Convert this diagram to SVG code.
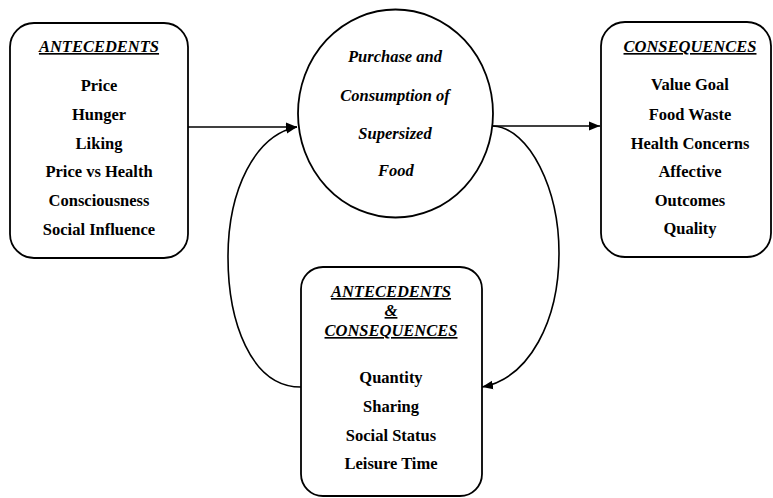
<svg xmlns="http://www.w3.org/2000/svg" width="773" height="498" viewBox="0 0 773 498">
<style>
.box{fill:#fff;stroke:#000;stroke-width:1.8}
.t{font-family:"Liberation Serif","Times New Roman",serif;font-size:16.5px;font-weight:bold;fill:#000;text-anchor:middle}
.h{font-style:italic;text-decoration:underline}
.i{font-style:italic}
.c{fill:none;stroke:#000;stroke-width:1.6}
</style>
<defs>
<marker id="ah" viewBox="0 0 10 10" refX="10" refY="5" markerWidth="11" markerHeight="11" markerUnits="userSpaceOnUse" orient="auto">
<path d="M0,1 L10,5 L0,9 Z" fill="#000"/>
</marker>
</defs>
<g id="connectors">
<line class="c" x1="188" y1="127" x2="297" y2="127" marker-end="url(#ah)"/>
<line class="c" x1="493" y1="126" x2="600" y2="126" marker-end="url(#ah)"/>
<path class="c" d="M301,387 C250,387 228,320 228,257 C228,190 255,135 297,127" marker-end="url(#ah)"/>
<path class="c" d="M493,126 C530,128 559,190 559,253 C559,320 530,378 482,387" marker-end="url(#ah)"/>
</g>
<g id="antecedents">
<rect class="box" x="10" y="23" width="178" height="235" rx="24"/>
<text class="t h" x="99" y="52">ANTECEDENTS</text>
<text class="t" x="99" y="91">Price</text>
<text class="t" x="99" y="120">Hunger</text>
<text class="t" x="99" y="149">Liking</text>
<text class="t" x="99" y="177">Price vs Health</text>
<text class="t" x="99" y="206">Consciousness</text>
<text class="t" x="99" y="235">Social Influence</text>
</g>
<g id="purchase">
<ellipse class="box" cx="395.5" cy="113.5" rx="97.5" ry="104"/>
<text class="t i" x="395" y="62">Purchase and</text>
<text class="t i" x="395" y="101">Consumption of</text>
<text class="t i" x="395" y="139">Supersized</text>
<text class="t i" x="396" y="176">Food</text>
</g>
<g id="consequences">
<rect class="box" x="601" y="22" width="170" height="235" rx="24"/>
<text class="t h" x="690" y="52">CONSEQUENCES</text>
<text class="t" x="690" y="90">Value Goal</text>
<text class="t" x="690" y="120">Food Waste</text>
<text class="t" x="690" y="149">Health Concerns</text>
<text class="t" x="690" y="177">Affective</text>
<text class="t" x="690" y="206">Outcomes</text>
<text class="t" x="690" y="234">Quality</text>
</g>
<g id="both">
<rect class="box" x="301" y="267" width="181" height="229" rx="22"/>
<text class="t h" x="391" y="297">ANTECEDENTS</text>
<text class="t h" x="391" y="316">&amp;</text>
<text class="t h" x="391" y="336">CONSEQUENCES</text>
<text class="t" x="391" y="383">Quantity</text>
<text class="t" x="391" y="412">Sharing</text>
<text class="t" x="391" y="441">Social Status</text>
<text class="t" x="391" y="469">Leisure Time</text>
</g>
</svg>
